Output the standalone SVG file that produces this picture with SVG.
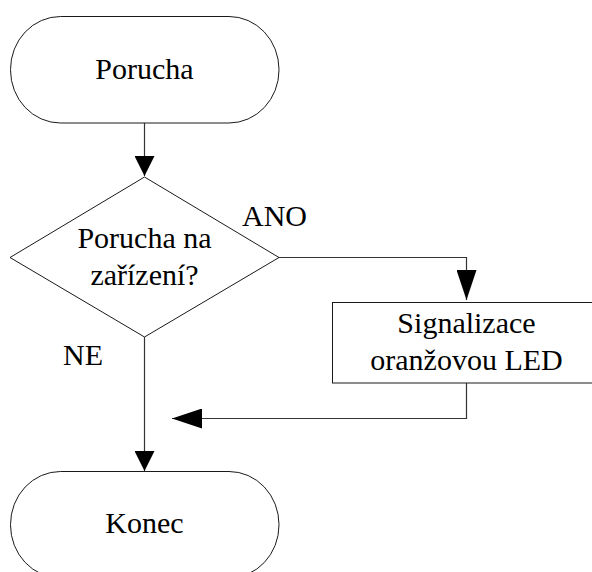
<svg xmlns="http://www.w3.org/2000/svg" width="592" height="572" viewBox="0 0 592 572">
  <style>
    .shape { fill: #ffffff; stroke: #1a1a1a; stroke-width: 1; }
    .wire { fill: none; stroke: #333333; stroke-width: 1.2; }
    .t { font-family: 'Liberation Serif', 'Times New Roman', serif; font-size: 30px; fill: #000000; }
    .mid { text-anchor: middle; }
  </style>
  <defs>
    <marker id="arr" markerUnits="userSpaceOnUse" markerWidth="20" markerHeight="20" refX="20" refY="10" orient="auto" viewBox="0 0 20 20">
      <path d="M0,0 L20,10 L0,20 Z" fill="#000000"/>
    </marker>
    <marker id="arrLong" markerUnits="userSpaceOnUse" markerWidth="30" markerHeight="20" refX="30" refY="10" orient="auto" viewBox="0 0 30 20">
      <path d="M0,0 L30,10 L0,20 Z" fill="#000000"/>
    </marker>
  </defs>

  <rect width="592" height="572" fill="#ffffff"/>

  <!-- flow lines -->
  <g id="connectors">
    <path class="wire" d="M144.5,123 V176" marker-end="url(#arr)"/>
    <path class="wire" d="M279,257.5 H466.5 V300" marker-end="url(#arrLong)"/>
    <path class="wire" d="M466.5,383 V418.5 H172" marker-end="url(#arrLong)"/>
    <path class="wire" d="M144.5,337 V471" marker-end="url(#arr)"/>
  </g>

  <!-- start terminal -->
  <g id="start">
    <rect class="shape" x="10.5" y="16.5" width="268.5" height="106.5" rx="50" ry="53"/>
    <text class="t mid" x="144.5" y="79">Porucha</text>
  </g>

  <!-- decision -->
  <g id="decision">
    <polygon class="shape" points="144.5,177 279,257.5 144.5,337 10,257.5"/>
    <text class="t mid" x="144.5" y="248">Porucha na</text>
    <text class="t mid" x="144.5" y="285">zařízení?</text>
  </g>

  <!-- branch labels -->
  <g id="labels">
    <text class="t" x="242" y="226">ANO</text>
    <text class="t" x="63" y="365">NE</text>
  </g>

  <!-- process box -->
  <g id="signal">
    <rect class="shape" x="332.5" y="302.5" width="268" height="80.5"/>
    <text class="t mid" x="466.5" y="333">Signalizace</text>
    <text class="t mid" x="466.5" y="370">oranžovou LED</text>
  </g>

  <!-- end terminal -->
  <g id="end">
    <rect class="shape" x="10.5" y="471.5" width="268.5" height="106.5" rx="50" ry="53"/>
    <text class="t mid" x="144.5" y="533">Konec</text>
  </g>
</svg>
